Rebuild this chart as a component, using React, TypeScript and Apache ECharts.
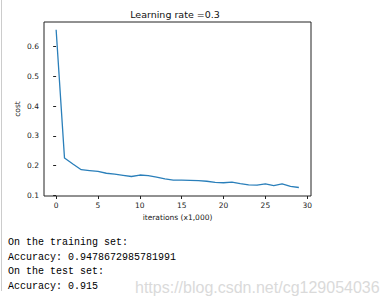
import React, { useEffect, useRef } from "react";
import * as echarts from "echarts";

const iterations = [0,1,2,3,4,5,6,7,8,9,10,11,12,13,14,15,16,17,18,19,20,21,22,23,24,25,26,27,28,29];
const costs = [0.657,0.225,0.205,0.186,0.183,0.180,0.174,0.171,0.167,0.163,0.168,0.166,0.161,0.155,0.151,0.151,0.150,0.149,0.147,0.143,0.142,0.144,0.139,0.135,0.134,0.138,0.132,0.138,0.130,0.126];
const xTicks = [0,5,10,15,20,25,30];
const yTicks = [0.1,0.2,0.3,0.4,0.5,0.6];
const titleText = "Learning rate =0.3";
const xName = "iterations (x1,000)";
const yName = "cost";
const outputLines = [
  "On the training set:",
  "Accuracy: 0.9478672985781991",
  "On the test set:",
  "Accuracy: 0.915",
];
const watermark = "https://blog.csdn.net/cg129054036";

export default function App() {
  const ref = useRef<HTMLDivElement>(null);
  useEffect(() => {
    if (!ref.current) return;
    const chart = echarts.init(ref.current, null, { renderer: "svg" });
    const font = "DejaVu Sans";
    const lineYs = [242, 257, 271.5, 286];
    chart.setOption({
      animation: false,
      backgroundColor: "#ffffff",
      grid: {
        left: 44, top: 22, width: 267, height: 174,
        show: true, borderColor: "#222", borderWidth: 1, backgroundColor: "transparent",
      },
      xAxis: {
        type: "value", min: -1.45, max: 30.45,
        axisLine: { show: false },
        splitLine: { show: false },
        axisTick: { show: true, length: 3, inside: false, customValues: xTicks, lineStyle: { color: "#222" } },
        axisLabel: { customValues: xTicks, margin: 5, fontSize: 7.5, fontFamily: font, color: "#222" },
        name: xName, nameLocation: "middle", nameGap: 17,
        nameTextStyle: { fontSize: 7.5, fontFamily: font, color: "#222" },
      },
      yAxis: {
        type: "value", min: 0.0974, max: 0.683,
        axisLine: { show: false },
        splitLine: { show: false },
        axisTick: { show: true, length: 3, inside: false, customValues: yTicks, lineStyle: { color: "#222" } },
        axisLabel: { customValues: yTicks, margin: 5, fontSize: 7.5, fontFamily: font, color: "#222", formatter: (v: number) => v.toFixed(1) },
      },
      series: [{
        type: "line",
        data: iterations.map((x, i) => [x, costs[i]]),
        showSymbol: false,
        lineStyle: { color: "#2a7fba", width: 1.3 },
      }],
      graphic: [
        { type: "line", shape: { x1: 1.5, y1: 0, x2: 1.5, y2: 291 }, style: { stroke: "#cccccc", lineWidth: 1 } },
        { type: "text", x: 175, y: 14, style: { text: titleText, fontSize: 9.5, fontFamily: font, fill: "#111", textAlign: "center", textVerticalAlign: "middle" } },
        { type: "text", x: 17, y: 109, rotation: Math.PI / 2, style: { text: yName, fontSize: 7.5, fontFamily: font, fill: "#222", textAlign: "center", textVerticalAlign: "middle" } },
        ...outputLines.map((t, i) => ({
          type: "text", x: 8, y: lineYs[i],
          style: { text: t, fontSize: 10, fontFamily: "Liberation Mono", fill: "#000", textAlign: "left", textVerticalAlign: "middle" },
        })),
        { type: "text", x: 135, y: 287, style: { text: watermark, fontSize: 16, fontFamily: "Liberation Sans", fill: "#dadada", textAlign: "left", textVerticalAlign: "middle" } },
      ],
    });
    return () => chart.dispose();
  }, []);
  return <div ref={ref} style={{ position: "fixed", left: 0, top: 0, width: 391, height: 300 }} />;
}
